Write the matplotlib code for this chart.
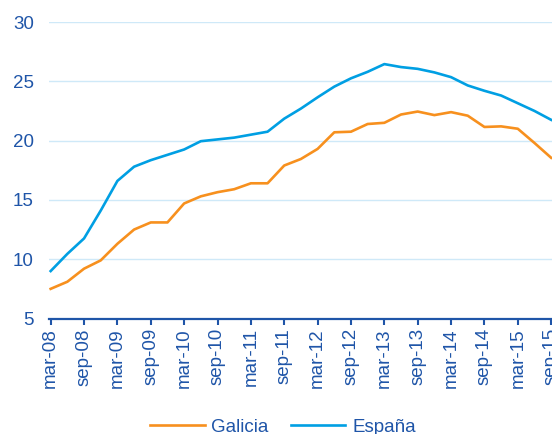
import matplotlib
matplotlib.use('Agg')
import matplotlib.pyplot as plt

# quarterly series, mar-08 .. sep-15
galicia = [7.5, 8.1, 9.2, 9.9, 11.3, 12.5, 13.1, 13.1, 14.7, 15.3, 15.65, 15.9,
           16.4, 16.4, 17.9, 18.45, 19.3, 20.7, 20.75, 21.4, 21.5, 22.2, 22.45,
           22.15, 22.4, 22.1, 21.15, 21.2, 21.0, 19.8, 18.55]
espana = [9.0, 10.45, 11.75, 14.1, 16.6, 17.8, 18.35, 18.8, 19.25, 19.95, 20.1,
          20.25, 20.5, 20.75, 21.85, 22.7, 23.65, 24.55, 25.25, 25.8, 26.45,
          26.2, 26.05, 25.75, 25.35, 24.65, 24.2, 23.8, 23.15, 22.5, 21.75]
tick_labels = ['mar-08', 'sep-08', 'mar-09', 'sep-09', 'mar-10', 'sep-10',
               'mar-11', 'sep-11', 'mar-12', 'sep-12', 'mar-13', 'sep-13',
               'mar-14', 'sep-14', 'mar-15', 'sep-15']

dark_blue = '#1f55a8'
x = list(range(len(galicia)))

plt.rcParams['font.family'] = ['Liberation Sans', 'DejaVu Sans']

fig = plt.figure(figsize=(5.52, 4.34), dpi=100)
ax = fig.add_axes([49 / 552, 1 - 318.5 / 434, 1 - 49 / 552, (318.5 - 22) / 434])

ax.plot(x, galicia, color='#f7901e', lw=1.9, label='Galicia', clip_on=False)
ax.plot(x, espana, color='#009fe3', lw=1.9, label='España', clip_on=False)

ax.set_ylim(5, 30)
ax.set_yticks([5, 10, 15, 20, 25, 30])
ax.set_xlim(-0.1, 30.05)
ax.set_xticks(x[::2])
ax.set_xticklabels(tick_labels, rotation=90)

ax.grid(axis='y', color='#cfe9f8', lw=1.0)
ax.set_axisbelow(True)
for s in ['top', 'right', 'left']:
    ax.spines[s].set_visible(False)
ax.spines['bottom'].set_color(dark_blue)
ax.spines['bottom'].set_linewidth(1.6)
ax.tick_params(axis='x', colors=dark_blue, length=4, width=1.5, labelsize=13.5, pad=3)
ax.tick_params(axis='y', colors=dark_blue, length=0, labelsize=13.5, pad=11)

leg = fig.legend(loc='center', bbox_to_anchor=(283 / 552, 1 - 427 / 434), ncol=2,
                 frameon=False, fontsize=13.5, handlelength=2.9, columnspacing=1.2,
                 handletextpad=0.35)
for t in leg.get_texts():
    t.set_color(dark_blue)

fig.savefig('out.png', dpi=100)
